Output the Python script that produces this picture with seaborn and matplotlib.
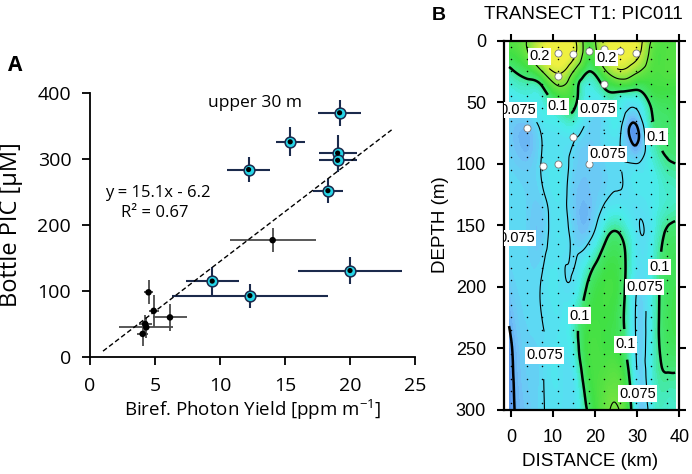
import numpy as np
import pandas as pd
import matplotlib
matplotlib.use("Agg")
import matplotlib.pyplot as plt
import matplotlib.tri as mtri
from matplotlib.colors import LinearSegmentedColormap, Normalize
import seaborn as sns

# ---------------- Panel A data ----------------
upper_yield = [19.2, 15.4, 12.2, 19.05, 19.05, 18.3, 20.0, 9.4, 12.3]
upper_yield_err = [1.65, 1.1, 1.65, 1.45, 1.45, 1.15, 4.0, 2.05, 6.0]
upper_pic = [370, 326, 284, 309, 298, 252, 131, 115, 93]
upper_pic_err = [20, 22, 19, 27, 18, 18, 20, 21, 18]

deep_yield = [14.05, 4.5, 4.9, 6.15, 4.25, 4.33, 4.05]
deep_yield_err = [3.3, 0.35, 0.4, 1.33, 0.5, 2.07, 0.4]
deep_pic = [177, 98, 70, 60, 50, 45, 35]
deep_pic_err = [18, 18, 24, 20, 14, 16, 19]

fit_slope = 15.1
fit_intercept = -6.2
fit_x = [1.0, 23.2]

# ---------------- Panel B data ----------------
grid_distance_km = [-0.5, 3.7, 7.4, 11.1, 14.8, 18.5, 22.2, 25.9, 29.6, 33.3, 37.0, 39.0]
grid_depth_m = [0, 10, 25, 40, 55, 70, 100, 130, 160, 200, 240, 270, 300]
pic_field = [
    [0.130, 0.150, 0.210, 0.270, 0.220, 0.130, 0.210, 0.260, 0.240, 0.150, 0.130, 0.130],
    [0.120, 0.145, 0.220, 0.270, 0.220, 0.125, 0.200, 0.250, 0.225, 0.140, 0.130, 0.130],
    [0.095, 0.110, 0.150, 0.210, 0.150, 0.100, 0.140, 0.190, 0.160, 0.130, 0.130, 0.130],
    [0.085, 0.090, 0.095, 0.135, 0.115, 0.085, 0.098, 0.105, 0.100, 0.115, 0.120, 0.120],
    [0.075, 0.078, 0.085, 0.097, 0.102, 0.078, 0.080, 0.085, 0.075, 0.100, 0.110, 0.115],
    [0.070, 0.066, 0.078, 0.082, 0.085, 0.072, 0.075, 0.078, 0.058, 0.095, 0.105, 0.110],
    [0.072, 0.068, 0.076, 0.080, 0.072, 0.068, 0.072, 0.075, 0.075, 0.085, 0.098, 0.100],
    [0.074, 0.072, 0.072, 0.080, 0.069, 0.066, 0.074, 0.078, 0.078, 0.082, 0.090, 0.092],
    [0.074, 0.072, 0.070, 0.080, 0.072, 0.072, 0.095, 0.102, 0.080, 0.082, 0.104, 0.108],
    [0.068, 0.074, 0.076, 0.080, 0.078, 0.105, 0.122, 0.112, 0.077, 0.085, 0.110, 0.115],
    [0.058, 0.072, 0.074, 0.080, 0.090, 0.122, 0.120, 0.110, 0.075, 0.085, 0.110, 0.115],
    [0.055, 0.070, 0.074, 0.080, 0.080, 0.118, 0.130, 0.128, 0.078, 0.085, 0.100, 0.100],
    [0.055, 0.068, 0.074, 0.078, 0.078, 0.105, 0.140, 0.148, 0.080, 0.082, 0.090, 0.092],
]
station_km = [0, 3.7, 7.4, 11.1, 14.8, 18.5, 22.2, 25.9, 29.6, 33.3, 37.0]
sample_depth_m = [5, 15, 25, 35, 45, 55, 65, 75, 85, 95, 105, 115, 125, 135, 145,
                  155, 165, 175, 185, 195, 205, 215, 225, 235, 245, 255, 265, 275, 285, 295]
bottle_km = [7.5, 11.1, 11.1, 14.8, 18.5, 22.2, 25.9, 29.6, 22.2, 3.7, 14.8, 7.5, 11.1, 18.5]
bottle_depth_m = [10, 10, 29, 11, 8, 7, 8, 10, 35, 71, 78, 102, 100, 100]
contour_levels = [0.06, 0.075, 0.1, 0.15, 0.2]
contour_widths = [1.8, 0.8, 1.8, 0.8, 0.8]
label_positions = {
    0.2: [(6.1, 14), (22.7, 14)],
    0.075: [(1.5, 57), (21.0, 51), (24.0, 90), (3.5, 164), (33.2, 200), (16.0, 257), (28.1, 287)],
    0.1: [(10.8, 55), (34.6, 78), (35.0, 184), (16.8, 224), (27.3, 247)],
}

# ---------------- style ----------------
sns.set_style("ticks")
plt.rcParams['font.family'] = ['Open Sans', 'DejaVu Sans']
plt.rcParams['text.color'] = 'k'
plt.rcParams['axes.labelcolor'] = 'k'
plt.rcParams['xtick.color'] = 'k'
plt.rcParams['ytick.color'] = 'k'
plt.rcParams['mathtext.fontset'] = 'custom'
plt.rcParams['mathtext.rm'] = 'Open Sans'
plt.rcParams['mathtext.it'] = 'Open Sans:italic'
plt.rcParams['mathtext.default'] = 'regular'

fig = plt.figure(figsize=(6.92, 4.74), dpi=100)
W, H = 692.0, 474.0

# ---------------- Panel A ----------------
ax1 = fig.add_axes([90 / W, 1 - 357 / H, 325 / W, 264 / H])
navy = '#1b2a4c'
ax1.errorbar(deep_yield, deep_pic, xerr=deep_yield_err, yerr=deep_pic_err, fmt='none',
             ecolor='#4a4a4a', elinewidth=1.3, capsize=0, zorder=2)
ax1.errorbar(upper_yield, upper_pic, xerr=upper_yield_err, yerr=upper_pic_err, fmt='none',
             ecolor=navy, elinewidth=1.5, capsize=0, zorder=2)
fx = np.array(fit_x)
ax1.plot(fx, fit_slope * fx + fit_intercept, color='k', lw=1.0, ls=(0, (3.5, 2)), zorder=3)

df_up = pd.DataFrame({'yield': upper_yield, 'pic': upper_pic})
df_dp = pd.DataFrame({'yield': deep_yield, 'pic': deep_pic})
sns.scatterplot(data=df_up, x='yield', y='pic', ax=ax1, s=60, color='#25d4e6',
                edgecolor=navy, linewidth=1.1, zorder=4)
sns.scatterplot(data=df_up, x='yield', y='pic', ax=ax1, s=14, color='k',
                edgecolor='none', zorder=5)
sns.scatterplot(data=df_dp, x='yield', y='pic', ax=ax1, s=22, color='k',
                edgecolor='none', zorder=5)

ax1.set_xlim(0, 25)
ax1.set_ylim(0, 400)
ax1.set_xticks([0, 5, 10, 15, 20, 25])
ax1.set_yticks([0, 100, 200, 300, 400])
sns.despine(ax=ax1)
for s in ['left', 'bottom']:
    ax1.spines[s].set_linewidth(1.3)
    ax1.spines[s].set_color('k')
ax1.tick_params(axis='both', direction='out', length=5.5, width=1.3, colors='k')
ax1.tick_params(axis='y', labelsize=14, pad=8)
ax1.tick_params(axis='x', labelsize=14, pad=9)
ax1.set_xlabel('Biref. Photon Yield [ppm m$^{-1}$]', fontsize=13.5)
ax1.set_ylabel('Bottle PIC [\u00b5M]', fontsize=17)
ax1.xaxis.set_label_coords(0.5, (357 - 398) / 264)
ax1.yaxis.set_label_coords((23 - 90) / 325, 0.5)

ax1.text(9.1, 385, 'upper 30 m', fontsize=12.5, ha='left', va='center')
ax1.text(5.2, 249, 'y = 15.1x - 6.2', fontsize=12, ha='center', va='center')
ax1.text(5.0, 218, 'R\u00b2 = 0.67', fontsize=12, ha='center', va='center')
fig.text(8 / W, 1 - 71 / H, 'A', fontsize=15, fontweight='bold', ha='left', va='baseline')

# ---------------- Panel B ----------------
helv = ['Liberation Sans', 'DejaVu Sans']
ax2 = fig.add_axes([504 / W, 1 - 409.5 / H, 175.3 / W, 368.8 / H])

dist = np.array(grid_distance_km)
dep = np.array(grid_depth_m)
Z = np.array(pic_field)
ny, nx = Z.shape
XX, YY = np.meshgrid(dist, dep)
scale = 7.5
tris = []
for i in range(ny - 1):
    for j in range(nx - 1):
        a = i * nx + j
        b = a + 1
        c = a + nx
        d = c + 1
        tris.append([a, b, d])
        tris.append([a, d, c])
tri0 = mtri.Triangulation(XX.ravel(), YY.ravel() / scale, np.array(tris))
refiner = mtri.UniformTriRefiner(tri0)
tri_r, z_r = refiner.refine_field(Z.ravel(), subdiv=4)
tri_plot = mtri.Triangulation(tri_r.x, tri_r.y * scale, tri_r.triangles)

stops = [(0.050, '#4a80e8'), (0.058, '#5c9ef0'), (0.066, '#70c2f6'), (0.075, '#5adcf3'),
         (0.085, '#4aeceb'), (0.094, '#46eab8'), (0.102, '#44e676'), (0.120, '#40e044'),
         (0.150, '#72e442'), (0.190, '#b8e83e'), (0.240, '#eef040')]
vmin, vmax = 0.05, 0.24
cmap = LinearSegmentedColormap.from_list(
    'odv', [((v - vmin) / (vmax - vmin), c) for v, c in stops])
norm = Normalize(vmin, vmax, clip=True)
ax2.tricontourf(tri_plot, z_r, levels=np.linspace(0.03, 0.30, 109), cmap=cmap, norm=norm,
                extend='both', zorder=1)

ax2.set_xlim(-1.7, 40)
ax2.set_ylim(300, 0)

label_texts = []
for lev, lw in zip(contour_levels, contour_widths):
    cs = ax2.tricontour(tri_plot, z_r, levels=[lev], colors='k', linewidths=lw, zorder=2)
    if lev in label_positions:
        cs.clabel(manual=label_positions[lev], inline=True, fmt=lambda v: f'{v:g}',
                  fontsize=10.5)
        label_texts.extend(cs.labelTexts)
for t in label_texts:
    t.set_rotation(0)
    t.set_family(helv)
    t.set_bbox(dict(facecolor='white', edgecolor='none', pad=0.8))
    t.set_zorder(6)

ax2.scatter([x for x in station_km for _ in sample_depth_m],
            [d for _ in station_km for d in sample_depth_m],
            s=1.2, color='k', linewidths=0, zorder=3)
ax2.scatter(bottle_km, bottle_depth_m, s=26, color='white', edgecolors='#777777',
            linewidths=0.6, zorder=5)

ax2.set_xticks([0, 10, 20, 30, 40])
ax2.set_yticks([0, 50, 100, 150, 200, 250, 300])
for s in ax2.spines.values():
    s.set_linewidth(1.6)
    s.set_color('k')
ax2.tick_params(axis='both', direction='out', length=5, width=1.5, top=True, right=True,
                labeltop=False, labelright=False, labelsize=13, colors='k')
ax2.tick_params(axis='x', pad=9)
ax2.tick_params(axis='y', pad=8)
for lab in ax2.get_xticklabels() + ax2.get_yticklabels():
    lab.set_family(helv)
ax2.set_xlabel('DISTANCE (km)', fontsize=13.5, family=helv)
ax2.set_ylabel('DEPTH (m)', fontsize=13.5, family=helv)
ax2.xaxis.set_label_coords(0.49, (409.5 - 453) / 368.8)
ax2.yaxis.set_label_coords((449 - 504) / 175.3, 0.5)

fig.text(583 / W, 1 - 19 / H, 'TRANSECT T1: PIC011', fontsize=13.5, family=helv,
         ha='center', va='baseline')
fig.text(432 / W, 1 - 20 / H, 'B', fontsize=14, fontweight='bold', family=helv,
         ha='left', va='baseline')

fig.savefig('out.png', dpi=100)
